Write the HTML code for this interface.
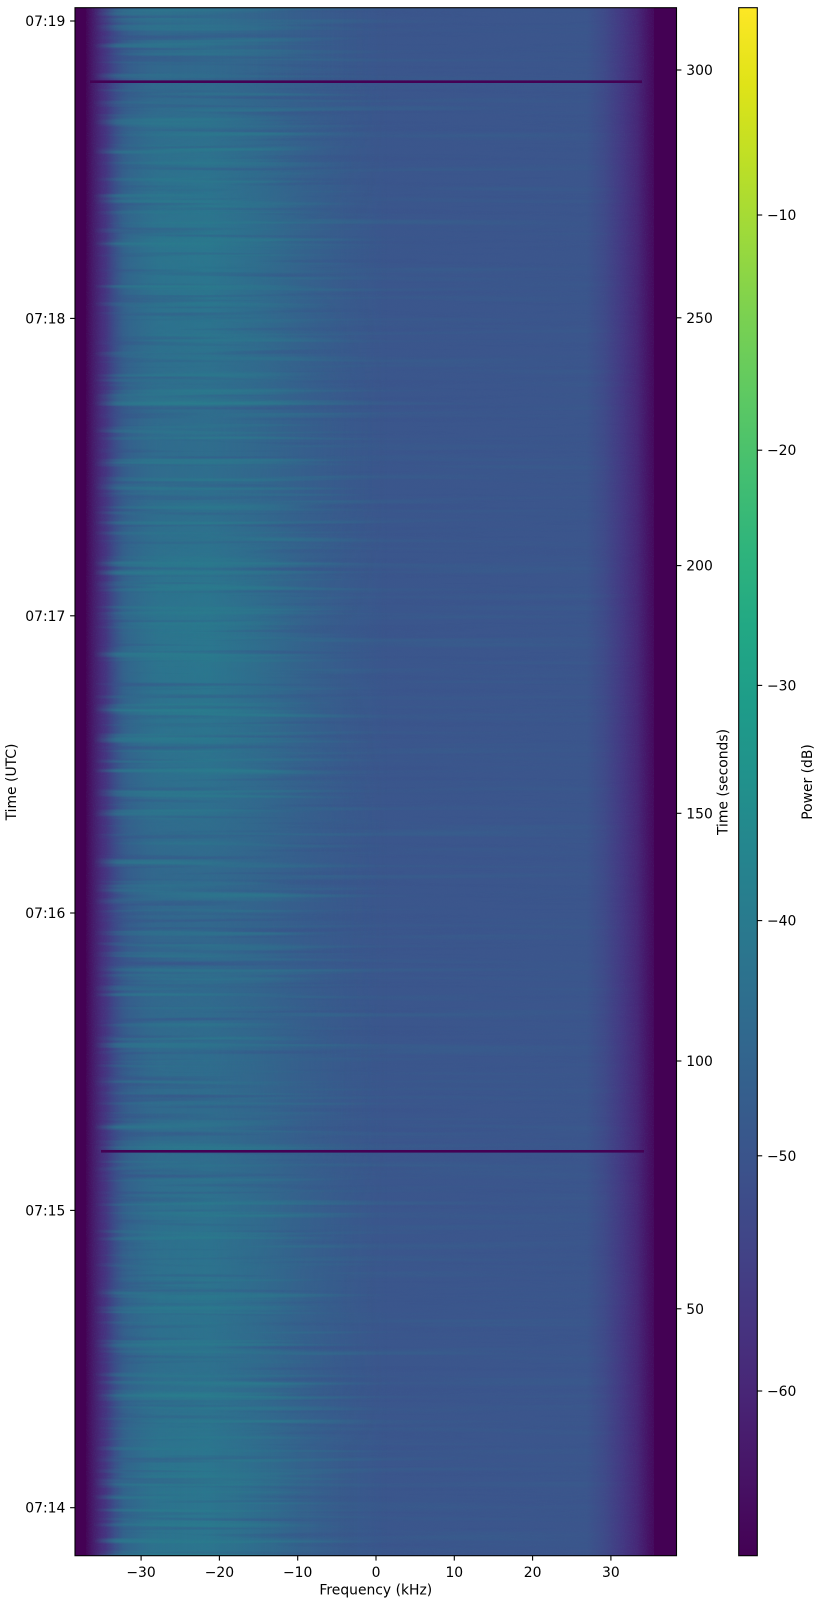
<!DOCTYPE html>
<html>
<head>
<meta charset="utf-8">
<style>
  html,body{margin:0;padding:0;background:#fff;}
  svg{display:block;}
  text{font-family:"DejaVu Sans","Liberation Sans",sans-serif;font-size:13.9px;fill:#000;}
</style>
</head>
<body>
<svg width="832" height="1603" viewBox="0 0 832 1603" xmlns="http://www.w3.org/2000/svg">
  <defs>
    <linearGradient id="bg" x1="0" y1="0" x2="1" y2="0">
      <stop offset="0" stop-color="#440154"/>
      <stop offset="0.017" stop-color="#440154"/>
      <stop offset="0.03" stop-color="#461a6a"/>
      <stop offset="0.045" stop-color="#472e7c"/>
      <stop offset="0.065" stop-color="#423f87"/>
      <stop offset="0.09" stop-color="#3c4f8b"/>
      <stop offset="0.12" stop-color="#3a568c"/>
      <stop offset="0.85" stop-color="#3b558c"/>
      <stop offset="0.88" stop-color="#3f4a89"/>
      <stop offset="0.91" stop-color="#443883"/>
      <stop offset="0.935" stop-color="#472777"/>
      <stop offset="0.955" stop-color="#460f63"/>
      <stop offset="0.97" stop-color="#440356"/>
      <stop offset="1" stop-color="#440154"/>
    </linearGradient>
    <linearGradient id="teal" x1="0" y1="0" x2="1" y2="0">
      <stop offset="0.05" stop-color="#26818e" stop-opacity="0"/>
      <stop offset="0.08" stop-color="#26818e" stop-opacity="0.45"/>
      <stop offset="0.14" stop-color="#26818e" stop-opacity="0.72"/>
      <stop offset="0.22" stop-color="#26818e" stop-opacity="0.78"/>
      <stop offset="0.30" stop-color="#26818e" stop-opacity="0.58"/>
      <stop offset="0.38" stop-color="#26818e" stop-opacity="0.3"/>
      <stop offset="0.45" stop-color="#26818e" stop-opacity="0.12"/>
      <stop offset="0.52" stop-color="#26818e" stop-opacity="0"/>
    </linearGradient>
    <linearGradient id="vmg" x1="0" y1="0" x2="0" y2="1">
      <stop offset="0.000" stop-color="rgb(150,150,150)"/>
      <stop offset="0.047" stop-color="rgb(150,150,150)"/>
      <stop offset="0.092" stop-color="rgb(215,215,215)"/>
      <stop offset="0.156" stop-color="rgb(255,255,255)"/>
      <stop offset="0.208" stop-color="rgb(230,230,230)"/>
      <stop offset="0.266" stop-color="rgb(180,180,180)"/>
      <stop offset="0.318" stop-color="rgb(190,190,190)"/>
      <stop offset="0.357" stop-color="rgb(230,230,230)"/>
      <stop offset="0.415" stop-color="rgb(255,255,255)"/>
      <stop offset="0.479" stop-color="rgb(230,230,230)"/>
      <stop offset="0.557" stop-color="rgb(155,155,155)"/>
      <stop offset="0.609" stop-color="rgb(130,130,130)"/>
      <stop offset="0.673" stop-color="rgb(180,180,180)"/>
      <stop offset="0.731" stop-color="rgb(165,165,165)"/>
      <stop offset="0.770" stop-color="rgb(215,215,215)"/>
      <stop offset="0.835" stop-color="rgb(230,230,230)"/>
      <stop offset="0.886" stop-color="rgb(205,205,205)"/>
      <stop offset="0.931" stop-color="rgb(245,245,245)"/>
      <stop offset="1" stop-color="rgb(245,245,245)"/>
    </linearGradient>
    <mask id="vm" maskUnits="userSpaceOnUse" x="75" y="7.7" width="601.5" height="1548">
      <rect x="75" y="7.7" width="601.5" height="1548" fill="url(#vmg)"/>
    </mask>
    <linearGradient id="hmg" x1="0" y1="0" x2="1" y2="0">
      <stop offset="0.03" stop-color="#000"/>
      <stop offset="0.07" stop-color="#fff"/>
      <stop offset="0.33" stop-color="#fff"/>
      <stop offset="0.5" stop-color="#444"/>
      <stop offset="0.85" stop-color="#222"/>
      <stop offset="0.95" stop-color="#000"/>
    </linearGradient>
    <mask id="hm" maskUnits="userSpaceOnUse" x="75" y="7.7" width="601.5" height="1548">
      <rect x="75" y="7.7" width="601.5" height="1548" fill="url(#hmg)"/>
    </mask>
    <filter id="streakL" x="75" y="7.7" width="601.5" height="1548" filterUnits="userSpaceOnUse" color-interpolation-filters="sRGB">
      <feTurbulence type="fractalNoise" baseFrequency="0.003 0.16" numOctaves="2" seed="7" result="n"/>
      <feColorMatrix in="n" type="matrix" values="0 0 0 0 0.16  0 0 0 0 0.50  0 0 0 0 0.55  2.2 0 0 0 -1.1"/>
    </filter>
    <filter id="streakD" x="75" y="7.7" width="601.5" height="1548" filterUnits="userSpaceOnUse" color-interpolation-filters="sRGB">
      <feTurbulence type="fractalNoise" baseFrequency="0.004 0.18" numOctaves="2" seed="21" result="n"/>
      <feColorMatrix in="n" type="matrix" values="0 0 0 0 0.24  0 0 0 0 0.30  0 0 0 0 0.54  -2.2 0 0 0 1.0"/>
    </filter>
    <filter id="grain" x="75" y="7.7" width="601.5" height="1548" filterUnits="userSpaceOnUse" color-interpolation-filters="sRGB">
      <feTurbulence type="fractalNoise" baseFrequency="0.9" numOctaves="1" seed="4" result="n"/>
      <feColorMatrix in="n" type="matrix" values="0 0 0 0 0.27  0 0 0 0 0.40  0 0 0 0 0.58  2 0 0 0 -0.9"/>
    </filter>
    <linearGradient id="cbar" x1="0" y1="1" x2="0" y2="0">
      <stop offset="0" stop-color="#440154"/>
      <stop offset="0.05" stop-color="#471365"/>
      <stop offset="0.1" stop-color="#482475"/>
      <stop offset="0.15" stop-color="#463480"/>
      <stop offset="0.2" stop-color="#414487"/>
      <stop offset="0.25" stop-color="#3b528b"/>
      <stop offset="0.3" stop-color="#355f8d"/>
      <stop offset="0.35" stop-color="#2f6c8e"/>
      <stop offset="0.4" stop-color="#2a788e"/>
      <stop offset="0.45" stop-color="#25848e"/>
      <stop offset="0.5" stop-color="#21918c"/>
      <stop offset="0.55" stop-color="#1e9c89"/>
      <stop offset="0.6" stop-color="#22a884"/>
      <stop offset="0.65" stop-color="#2fb47c"/>
      <stop offset="0.7" stop-color="#44bf70"/>
      <stop offset="0.75" stop-color="#5ec962"/>
      <stop offset="0.8" stop-color="#7ad151"/>
      <stop offset="0.85" stop-color="#9bd93c"/>
      <stop offset="0.9" stop-color="#bddf26"/>
      <stop offset="0.95" stop-color="#dfe318"/>
      <stop offset="1" stop-color="#fde725"/>
    </linearGradient>
  </defs>

  <rect x="0" y="0" width="832" height="1603" fill="#fff"/>

  <!-- spectrogram -->
  <rect x="75" y="7.7" width="601.5" height="1548" fill="url(#bg)"/>
  <g mask="url(#vm)">
    <rect x="75" y="7.7" width="601.5" height="1548" fill="url(#teal)"/>
  </g>
  <g mask="url(#hm)">
    <rect x="75" y="7.7" width="601.5" height="1548" filter="url(#streakL)"/>
    <rect x="75" y="7.7" width="601.5" height="1548" filter="url(#streakD)" opacity="0.7"/>
  </g>
  <rect x="75" y="7.7" width="601.5" height="1548" filter="url(#grain)" opacity="0.2"/>
  <!-- left/right dark edges on top of overlays -->
  <rect x="75" y="7.7" width="11" height="1548" fill="#440154"/>
  <rect x="654" y="7.7" width="22.5" height="1548" fill="#440154"/>

  <!-- dark horizontal lines -->
  <rect x="90" y="80.4" width="552" height="2.6" fill="#440154"/>
  <rect x="101" y="1150" width="543" height="2.6" fill="#440154"/>

  <!-- axes frame -->
  <rect x="75" y="7.7" width="601.5" height="1548" fill="none" stroke="#000" stroke-width="1.1"/>

  <!-- left ticks -->
  <g stroke="#000" stroke-width="1.1">
    <line x1="70.1" y1="21" x2="75" y2="21"/>
    <line x1="70.1" y1="318.4" x2="75" y2="318.4"/>
    <line x1="70.1" y1="615.8" x2="75" y2="615.8"/>
    <line x1="70.1" y1="913" x2="75" y2="913"/>
    <line x1="70.1" y1="1210.4" x2="75" y2="1210.4"/>
    <line x1="70.1" y1="1507.7" x2="75" y2="1507.7"/>
  </g>
  <g text-anchor="end">
    <text x="65.3" y="26">07:19</text>
    <text x="65.3" y="323.4">07:18</text>
    <text x="65.3" y="620.8">07:17</text>
    <text x="65.3" y="918">07:16</text>
    <text x="65.3" y="1215.4">07:15</text>
    <text x="65.3" y="1512.7">07:14</text>
  </g>

  <!-- right ticks -->
  <g stroke="#000" stroke-width="1.1">
    <line x1="676.5" y1="70" x2="681.4" y2="70"/>
    <line x1="676.5" y1="317.8" x2="681.4" y2="317.8"/>
    <line x1="676.5" y1="565.6" x2="681.4" y2="565.6"/>
    <line x1="676.5" y1="813.3" x2="681.4" y2="813.3"/>
    <line x1="676.5" y1="1061" x2="681.4" y2="1061"/>
    <line x1="676.5" y1="1308.8" x2="681.4" y2="1308.8"/>
  </g>
  <g text-anchor="start">
    <text x="686.3" y="75">300</text>
    <text x="686.3" y="322.8">250</text>
    <text x="686.3" y="570.6">200</text>
    <text x="686.3" y="818.3">150</text>
    <text x="686.3" y="1066">100</text>
    <text x="686.3" y="1313.8">50</text>
  </g>

  <!-- bottom ticks -->
  <g stroke="#000" stroke-width="1.1">
    <line x1="141.1" y1="1555.7" x2="141.1" y2="1560.6"/>
    <line x1="219.4" y1="1555.7" x2="219.4" y2="1560.6"/>
    <line x1="297.7" y1="1555.7" x2="297.7" y2="1560.6"/>
    <line x1="376" y1="1555.7" x2="376" y2="1560.6"/>
    <line x1="454.3" y1="1555.7" x2="454.3" y2="1560.6"/>
    <line x1="532.6" y1="1555.7" x2="532.6" y2="1560.6"/>
    <line x1="610.9" y1="1555.7" x2="610.9" y2="1560.6"/>
  </g>
  <g text-anchor="middle">
    <text x="141.1" y="1576.8">−30</text>
    <text x="219.4" y="1576.8">−20</text>
    <text x="297.7" y="1576.8">−10</text>
    <text x="376" y="1576.8">0</text>
    <text x="454.3" y="1576.8">10</text>
    <text x="532.6" y="1576.8">20</text>
    <text x="610.9" y="1576.8">30</text>
  </g>

  <!-- axis labels -->
  <text x="375.8" y="1594.3" text-anchor="middle">Frequency (kHz)</text>
  <text transform="translate(16,782) rotate(-90)" text-anchor="middle">Time (UTC)</text>
  <text transform="translate(727.4,782) rotate(-90)" text-anchor="middle">Time (seconds)</text>

  <!-- colorbar -->
  <rect x="738.7" y="7.7" width="18.6" height="1548" fill="url(#cbar)" stroke="#000" stroke-width="1.1"/>
  <g stroke="#000" stroke-width="1.1">
    <line x1="757.3" y1="215" x2="762.2" y2="215"/>
    <line x1="757.3" y1="450.2" x2="762.2" y2="450.2"/>
    <line x1="757.3" y1="685.4" x2="762.2" y2="685.4"/>
    <line x1="757.3" y1="920.6" x2="762.2" y2="920.6"/>
    <line x1="757.3" y1="1155.8" x2="762.2" y2="1155.8"/>
    <line x1="757.3" y1="1391" x2="762.2" y2="1391"/>
  </g>
  <g text-anchor="start">
    <text x="767" y="220">−10</text>
    <text x="767" y="455.2">−20</text>
    <text x="767" y="690.4">−30</text>
    <text x="767" y="925.6">−40</text>
    <text x="767" y="1160.8">−50</text>
    <text x="767" y="1396">−60</text>
  </g>
  <text transform="translate(811.8,782) rotate(-90)" text-anchor="middle">Power (dB)</text>
</svg>
</body>
</html>
